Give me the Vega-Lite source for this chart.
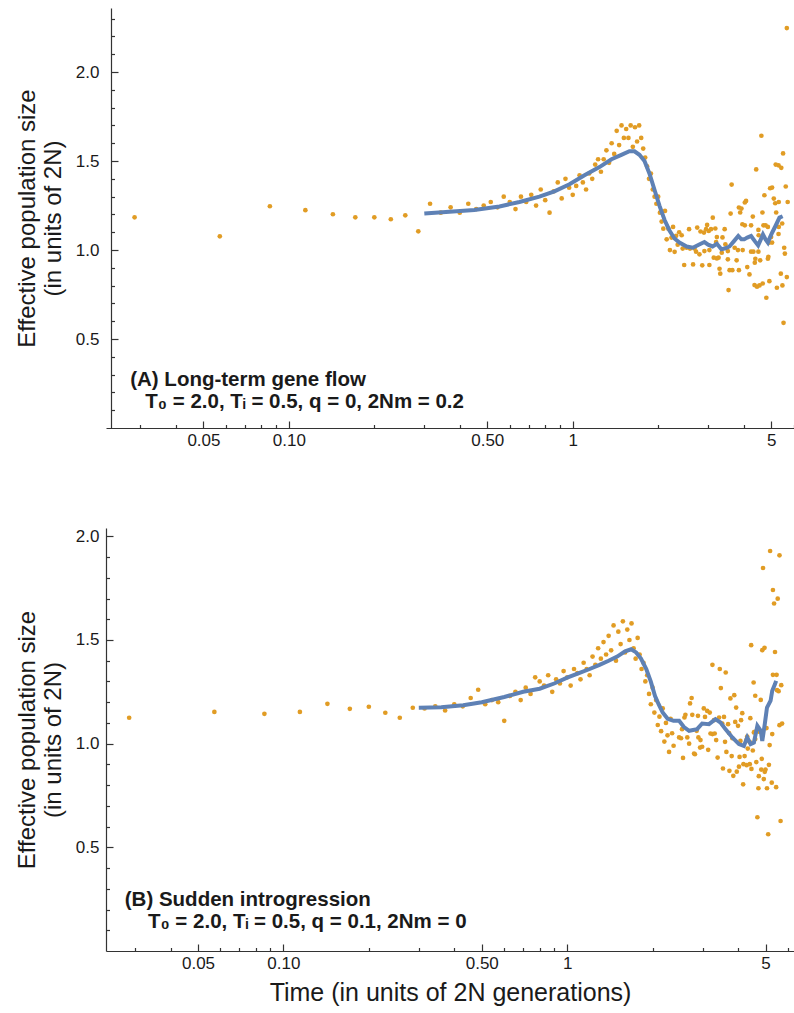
{
  "$schema": "https://vega.github.io/schema/vega-lite/v6.json",
  "padding": {"left": 15, "top": 8, "right": 0, "bottom": 5},
  "background": "white",
  "spacing": 79,
  "config": {
    "view": {"stroke": null},
    "axis": {"grid": false, "labelFont": "Liberation Sans", "titleFont": "Liberation Sans", "labelFontSize": 17, "titleFontSize": 24, "titleFontWeight": "normal", "domainColor": "#333333", "tickColor": "#333333", "labelColor": "#1a1a1a", "titleColor": "#1a1a1a", "domainWidth": 1.2, "tickWidth": 1.2}
  },
  "datasets": {
    "ptsA": [
      {"t":0.0286,"ne":1.184},{"t":0.0571,"ne":1.077},{"t":0.0857,"ne":1.246},{"t":0.1143,"ne":1.224},{"t":0.1429,"ne":1.201},{"t":0.1714,"ne":1.184},{"t":0.2,"ne":1.184},{"t":0.2286,"ne":1.173},{"t":0.2571,"ne":1.195},{"t":0.2857,"ne":1.105},
      {"t":0.3143,"ne":1.26},{"t":0.3429,"ne":1.21},{"t":0.3714,"ne":1.24},{"t":0.4,"ne":1.21},{"t":0.4286,"ne":1.26},{"t":0.4571,"ne":1.23},{"t":0.4857,"ne":1.25},{"t":0.5143,"ne":1.27},{"t":0.5429,"ne":1.24},{"t":0.5714,"ne":1.30},
      {"t":0.6,"ne":1.27},{"t":0.6286,"ne":1.23},{"t":0.6571,"ne":1.30},{"t":0.6857,"ne":1.27},{"t":0.7143,"ne":1.31},{"t":0.7429,"ne":1.25},{"t":0.7714,"ne":1.34},{"t":0.8,"ne":1.28},{"t":0.8286,"ne":1.21},{"t":0.8571,"ne":1.33},
      {"t":0.8857,"ne":1.38},{"t":0.9143,"ne":1.29},{"t":0.9429,"ne":1.40},{"t":0.9714,"ne":1.35},{"t":1.0,"ne":1.31},{"t":1.0286,"ne":1.36},{"t":1.0571,"ne":1.42},{"t":1.0857,"ne":1.38},{"t":1.1143,"ne":1.34},{"t":1.1429,"ne":1.43},
      {"t":1.1714,"ne":1.40},{"t":1.2,"ne":1.48},{"t":1.2286,"ne":1.51},{"t":1.2571,"ne":1.44},{"t":1.2857,"ne":1.51},{"t":1.3143,"ne":1.56},{"t":1.3429,"ne":1.49},{"t":1.3714,"ne":1.60},{"t":1.4,"ne":1.54},{"t":1.4286,"ne":1.67},
      {"t":1.4571,"ne":1.59},{"t":1.4857,"ne":1.70},{"t":1.5143,"ne":1.63},{"t":1.5429,"ne":1.68},{"t":1.5714,"ne":1.63},{"t":1.6,"ne":1.70},{"t":1.6286,"ne":1.58},{"t":1.6571,"ne":1.69},{"t":1.6857,"ne":1.61},{"t":1.7143,"ne":1.70},
      {"t":1.7429,"ne":1.63},{"t":1.7714,"ne":1.57},{"t":1.8,"ne":1.52},{"t":1.8286,"ne":1.47},{"t":1.8571,"ne":1.40},{"t":1.8857,"ne":1.43},{"t":1.9143,"ne":1.34},{"t":1.9429,"ne":1.30},{"t":1.9714,"ne":1.26},{"t":2.0,"ne":1.30},
      {"t":2.0286,"ne":1.21},{"t":2.0571,"ne":1.16},{"t":2.0857,"ne":1.12},{"t":2.1143,"ne":1.22},{"t":2.1429,"ne":1.06},{"t":2.1714,"ne":1.12},{"t":2.2,"ne":1.00},{"t":2.2286,"ne":1.07},{"t":2.2571,"ne":1.13},{"t":2.2857,"ne":0.99},
      {"t":2.3143,"ne":1.08},{"t":2.3429,"ne":1.03},{"t":2.3714,"ne":1.10},
      {"t":5.68,"ne":2.247},{"t":4.62,"ne":1.642},{"t":5.51,"ne":1.543},{"t":5.19,"ne":1.48},{"t":5.31,"ne":1.476},{"t":5.43,"ne":1.462},{"t":4.43,"ne":1.453},{"t":3.63,"ne":1.368},{"t":5.63,"ne":1.357},{"t":4.96,"ne":1.347},
      {"t":5.04,"ne":1.351},{"t":4.735,"ne":1.308},{"t":4.08,"ne":1.276},{"t":4.04,"ne":1.267},{"t":5.11,"ne":1.289},{"t":5.32,"ne":1.27},{"t":5.17,"ne":1.263},{"t":5.72,"ne":1.27},{"t":3.85,"ne":1.239},{"t":3.93,"ne":1.233},
      {"t":3.89,"ne":1.211},{"t":3.6,"ne":1.205},{"t":4.66,"ne":1.211},{"t":5.21,"ne":1.211},{"t":3.115,"ne":1.182},{"t":4.31,"ne":1.188},{"t":2.975,"ne":1.141},{"t":3.96,"ne":1.145},{"t":4.04,"ne":1.139},{"t":4.25,"ne":1.139},
      {"t":4.70,"ne":1.139},{"t":4.78,"ne":1.139},{"t":4.87,"ne":1.13},{"t":2.57,"ne":1.117},{"t":2.745,"ne":1.126},{"t":2.82,"ne":1.104},{"t":2.90,"ne":1.098},{"t":2.95,"ne":1.117},{"t":3.015,"ne":1.107},{"t":3.07,"ne":1.117},
      {"t":3.18,"ne":1.121},{"t":3.43,"ne":1.117},{"t":4.51,"ne":1.113},{"t":5.32,"ne":1.13},{"t":5.47,"ne":1.149},{"t":2.42,"ne":1.083},{"t":3.22,"ne":1.073},{"t":3.37,"ne":1.071},{"t":4.52,"ne":1.083},{"t":5.0,"ne":1.073},
      {"t":4.93,"ne":1.042},{"t":5.04,"ne":1.042},{"t":5.31,"ne":1.09},{"t":2.44,"ne":1.008},{"t":2.52,"ne":1.013},{"t":2.59,"ne":1.008},{"t":2.685,"ne":1.008},{"t":2.72,"ne":0.991},{"t":2.796,"ne":0.976},{"t":2.91,"ne":0.994},
      {"t":3.03,"ne":1.0},{"t":3.2,"ne":1.045},{"t":3.45,"ne":1.032},{"t":3.52,"ne":0.994},{"t":3.35,"ne":0.985},{"t":3.72,"ne":1.013},{"t":3.82,"ne":1.0},{"t":3.97,"ne":1.0},{"t":4.25,"ne":0.991},{"t":4.33,"ne":0.991},
      {"t":4.51,"ne":0.991},{"t":5.56,"ne":1.013},{"t":5.59,"ne":0.98},{"t":2.47,"ne":0.916},{"t":2.655,"ne":0.919},{"t":2.86,"ne":0.914},{"t":3.03,"ne":0.916},{"t":3.14,"ne":0.957},{"t":3.22,"ne":0.953},{"t":3.265,"ne":0.957},
      {"t":3.52,"ne":0.948},{"t":3.78,"ne":0.942},{"t":3.29,"ne":0.895},{"t":3.31,"ne":0.867},{"t":3.57,"ne":0.887},{"t":3.65,"ne":0.887},{"t":3.85,"ne":0.887},{"t":4.12,"ne":0.904},{"t":4.195,"ne":0.863},{"t":4.38,"ne":0.929},
      {"t":4.4,"ne":0.951},{"t":4.575,"ne":0.942},{"t":4.87,"ne":0.951},{"t":4.89,"ne":0.962},{"t":5.41,"ne":0.867},{"t":5.68,"ne":0.848},{"t":3.54,"ne":0.775},{"t":4.37,"ne":0.803},{"t":4.46,"ne":0.794},{"t":4.55,"ne":0.801},
      {"t":4.67,"ne":0.812},{"t":4.93,"ne":0.825},{"t":4.81,"ne":0.732},{"t":5.24,"ne":0.788},{"t":5.48,"ne":0.801},{"t":5.53,"ne":0.591}
    ],
    "lineA": [
      {"t":0.30,"ne":1.205},{"t":0.368,"ne":1.215},{"t":0.45,"ne":1.225},{"t":0.552,"ne":1.245},{"t":0.649,"ne":1.27},{"t":0.763,"ne":1.30},{"t":0.862,"ne":1.33},{"t":0.974,"ne":1.37},{"t":1.10,"ne":1.42},{"t":1.242,"ne":1.466},
      {"t":1.37,"ne":1.51},{"t":1.484,"ne":1.535},{"t":1.584,"ne":1.555},{"t":1.65,"ne":1.555},{"t":1.718,"ne":1.535},{"t":1.79,"ne":1.50},{"t":1.863,"ne":1.43},{"t":1.94,"ne":1.34},{"t":2.021,"ne":1.25},{"t":2.105,"ne":1.17},
      {"t":2.192,"ne":1.11},{"t":2.283,"ne":1.065},{"t":2.377,"ne":1.042},{"t":2.52,"ne":1.02},{"t":2.65,"ne":1.013},{"t":2.78,"ne":1.03},{"t":2.91,"ne":1.045},{"t":3.0,"ne":1.03},{"t":3.11,"ne":1.02},{"t":3.22,"ne":1.035},
      {"t":3.34,"ne":1.004},{"t":3.45,"ne":1.01},{"t":3.566,"ne":1.02},{"t":3.7,"ne":1.05},{"t":3.83,"ne":1.079},{"t":3.93,"ne":1.06},{"t":4.02,"ne":1.06},{"t":4.12,"ne":1.07},{"t":4.25,"ne":1.079},{"t":4.38,"ne":1.05},
      {"t":4.5,"ne":1.026},{"t":4.6,"ne":1.06},{"t":4.68,"ne":1.088},{"t":4.78,"ne":1.06},{"t":4.87,"ne":1.042},{"t":4.95,"ne":1.07},{"t":5.05,"ne":1.10},{"t":5.18,"ne":1.135},{"t":5.35,"ne":1.182},{"t":5.49,"ne":1.19}
    ],
    "ptsB": [
      {"t":0.0286,"ne":1.125},{"t":0.0571,"ne":1.153},{"t":0.0857,"ne":1.144},{"t":0.1143,"ne":1.153},{"t":0.1429,"ne":1.192},{"t":0.1714,"ne":1.168},{"t":0.2,"ne":1.178},{"t":0.2286,"ne":1.149},{"t":0.2571,"ne":1.125},{"t":0.2857,"ne":1.173},
      {"t":0.3143,"ne":1.17},{"t":0.3429,"ne":1.18},{"t":0.3714,"ne":1.16},{"t":0.4,"ne":1.19},{"t":0.4286,"ne":1.18},{"t":0.4571,"ne":1.22},{"t":0.4857,"ne":1.26},{"t":0.5143,"ne":1.19},{"t":0.5429,"ne":1.21},{"t":0.5714,"ne":1.20},
      {"t":0.6,"ne":1.11},{"t":0.6286,"ne":1.23},{"t":0.6571,"ne":1.25},{"t":0.6857,"ne":1.21},{"t":0.7143,"ne":1.27},{"t":0.7429,"ne":1.24},{"t":0.7714,"ne":1.32},{"t":0.8,"ne":1.30},{"t":0.8286,"ne":1.28},{"t":0.8571,"ne":1.33},
      {"t":0.8857,"ne":1.25},{"t":0.9143,"ne":1.31},{"t":0.9429,"ne":1.29},{"t":0.9714,"ne":1.35},{"t":1.0,"ne":1.32},{"t":1.0286,"ne":1.28},{"t":1.0571,"ne":1.36},{"t":1.0857,"ne":1.34},{"t":1.1143,"ne":1.31},{"t":1.1429,"ne":1.39},
      {"t":1.1714,"ne":1.36},{"t":1.2,"ne":1.33},{"t":1.2286,"ne":1.42},{"t":1.2571,"ne":1.38},{"t":1.2857,"ne":1.46},{"t":1.3143,"ne":1.41},{"t":1.3429,"ne":1.49},{"t":1.3714,"ne":1.43},{"t":1.4,"ne":1.52},{"t":1.4286,"ne":1.45},
      {"t":1.4571,"ne":1.57},{"t":1.4857,"ne":1.40},{"t":1.5143,"ne":1.54},{"t":1.5429,"ne":1.48},{"t":1.5714,"ne":1.59},{"t":1.6,"ne":1.44},{"t":1.6286,"ne":1.55},{"t":1.6571,"ne":1.50},{"t":1.6857,"ne":1.58},{"t":1.7143,"ne":1.46},
      {"t":1.7429,"ne":1.41},{"t":1.7714,"ne":1.51},{"t":1.8,"ne":1.43},{"t":1.8286,"ne":1.36},{"t":1.8571,"ne":1.39},{"t":1.8857,"ne":1.30},{"t":1.9143,"ne":1.33},{"t":1.9429,"ne":1.24},{"t":1.9714,"ne":1.19},{"t":2.0,"ne":1.27},
      {"t":2.0286,"ne":1.15},{"t":2.0571,"ne":1.21},{"t":2.0857,"ne":1.09},{"t":2.1143,"ne":1.13},{"t":2.1429,"ne":1.06},{"t":2.1714,"ne":1.17},{"t":2.2,"ne":1.01},{"t":2.2286,"ne":1.10},{"t":2.2571,"ne":1.04},{"t":2.2857,"ne":0.96},
      {"t":2.3143,"ne":1.12},{"t":2.3429,"ne":1.05},{"t":2.3714,"ne":0.99},
      {"t":5.19,"ne":1.929},{"t":5.6,"ne":1.908},{"t":4.9,"ne":1.847},{"t":5.31,"ne":1.741},{"t":5.52,"ne":1.699},{"t":5.36,"ne":1.676},{"t":4.45,"ne":1.475},{"t":4.87,"ne":1.451},{"t":4.96,"ne":1.462},{"t":5.4,"ne":1.442},
      {"t":3.25,"ne":1.38},{"t":3.45,"ne":1.36},{"t":3.62,"ne":1.343},{"t":5.31,"ne":1.332},{"t":5.47,"ne":1.332},{"t":4.54,"ne":1.295},{"t":5.68,"ne":1.282},{"t":5.49,"ne":1.258},{"t":5.56,"ne":1.253},{"t":3.48,"ne":1.268},
      {"t":4.6,"ne":1.231},{"t":4.81,"ne":1.211},{"t":3.88,"ne":1.234},{"t":3.76,"ne":1.218},{"t":2.745,"ne":1.22},{"t":2.71,"ne":1.194},{"t":3.94,"ne":1.174},{"t":4.14,"ne":1.147},{"t":4.1,"ne":1.113},{"t":3.03,"ne":1.17},
      {"t":3.115,"ne":1.158},{"t":3.18,"ne":1.15},{"t":3.06,"ne":1.129},{"t":2.61,"ne":1.139},{"t":2.76,"ne":1.139},{"t":2.89,"ne":1.134},{"t":2.59,"ne":1.126},{"t":3.29,"ne":1.113},{"t":3.43,"ne":1.126},{"t":3.57,"ne":1.129},
      {"t":3.52,"ne":1.097},{"t":3.69,"ne":1.094},{"t":4.0,"ne":1.086},{"t":3.91,"ne":1.105},{"t":4.42,"ne":1.123},{"t":5.6,"ne":1.089},{"t":5.72,"ne":1.097},{"t":2.54,"ne":1.07},{"t":2.86,"ne":1.062},{"t":2.9,"ne":1.03},
      {"t":2.95,"ne":1.017},{"t":2.48,"ne":1.03},{"t":2.52,"ne":1.026},{"t":2.65,"ne":1.03},{"t":2.69,"ne":1.0},{"t":3.2,"ne":1.049},{"t":3.25,"ne":1.046},{"t":3.31,"ne":1.049},{"t":3.72,"ne":1.051},{"t":3.82,"ne":1.026},
      {"t":3.6,"ne":1.009},{"t":4.08,"ne":1.013},{"t":4.31,"ne":1.034},{"t":4.4,"ne":1.007},{"t":4.58,"ne":1.057},{"t":4.735,"ne":1.058},{"t":4.6,"ne":1.022},{"t":4.55,"ne":1.054},{"t":5.04,"ne":1.075},{"t":5.28,"ne":1.046},
      {"t":5.17,"ne":0.993},{"t":4.29,"ne":1.02},{"t":4.33,"ne":0.976},{"t":4.51,"ne":0.967},{"t":3.35,"ne":1.017},{"t":3.14,"ne":0.97},{"t":2.56,"ne":0.931},{"t":2.8,"ne":0.952},{"t":2.82,"ne":0.949},{"t":2.94,"ne":0.981},
      {"t":2.99,"ne":0.985},{"t":3.39,"ne":0.933},{"t":3.64,"ne":0.96},{"t":3.8,"ne":0.94},{"t":4.05,"ne":0.936},{"t":4.22,"ne":0.94},{"t":4.18,"ne":0.901},{"t":4.4,"ne":0.901},{"t":4.29,"ne":0.896},{"t":4.46,"ne":0.878},
      {"t":4.64,"ne":0.911},{"t":4.85,"ne":0.927},{"t":4.03,"ne":0.889},{"t":3.54,"ne":0.88},{"t":3.73,"ne":0.869},{"t":3.85,"ne":0.845},{"t":3.96,"ne":0.865},{"t":4.735,"ne":0.843},{"t":4.83,"ne":0.875},{"t":4.93,"ne":0.829},
      {"t":4.97,"ne":0.864},{"t":5.0,"ne":0.875},{"t":5.14,"ne":0.898},{"t":4.17,"ne":0.804},{"t":4.72,"ne":0.785},{"t":5.06,"ne":0.785},{"t":5.26,"ne":0.812},{"t":5.45,"ne":0.79},{"t":4.68,"ne":0.645},{"t":5.11,"ne":0.563},
      {"t":5.65,"ne":0.627}
    ],
    "lineB": [
      {"t":0.30,"ne":1.173},{"t":0.36,"ne":1.175},{"t":0.43,"ne":1.185},{"t":0.5,"ne":1.20},{"t":0.6,"ne":1.225},{"t":0.7,"ne":1.25},{"t":0.8,"ne":1.265},{"t":0.9,"ne":1.29},{"t":1.0,"ne":1.318},{"t":1.1,"ne":1.34},
      {"t":1.2,"ne":1.36},{"t":1.3,"ne":1.38},{"t":1.4,"ne":1.40},{"t":1.5,"ne":1.42},{"t":1.6,"ne":1.445},{"t":1.68,"ne":1.455},{"t":1.75,"ne":1.44},{"t":1.82,"ne":1.41},{"t":1.9,"ne":1.36},{"t":1.97,"ne":1.30},
      {"t":2.04,"ne":1.23},{"t":2.1,"ne":1.19},{"t":2.17,"ne":1.15},{"t":2.26,"ne":1.12},{"t":2.37,"ne":1.11},{"t":2.48,"ne":1.11},{"t":2.58,"ne":1.08},{"t":2.69,"ne":1.062},{"t":2.87,"ne":1.07},{"t":2.99,"ne":1.097},
      {"t":3.16,"ne":1.094},{"t":3.33,"ne":1.118},{"t":3.47,"ne":1.102},{"t":3.61,"ne":1.07},{"t":3.82,"ne":1.03},{"t":4.03,"ne":0.998},{"t":4.195,"ne":0.989},{"t":4.31,"ne":1.03},{"t":4.43,"ne":0.998},{"t":4.55,"ne":1.005},
      {"t":4.68,"ne":1.086},{"t":4.81,"ne":1.062},{"t":4.87,"ne":1.013},{"t":4.97,"ne":1.094},{"t":5.06,"ne":1.174},{"t":5.21,"ne":1.207},{"t":5.28,"ne":1.255},{"t":5.4,"ne":1.287},{"t":5.45,"ne":1.303}
    ]
  },
  "vconcat": [
    {
      "width": 688,
      "height": 420,
      "layer": [
        {
          "data": {"name": "ptsA"},
          "mark": {"type": "circle", "size": 22, "color": "#E19C24", "opacity": 1},
          "encoding": {
            "x": {"field": "t", "type": "quantitative", "scale": {"type": "log", "domain": [0.02268, 6.02], "nice": false},
                  "axis": {"values": [0.05, 0.1, 0.5, 1, 5], "labelExpr": "datum.value < 0.07 ? '0.05' : datum.value < 0.3 ? '0.10' : datum.value < 0.7 ? '0.50' : datum.value < 2 ? '1' : '5'", "ticks": false, "title": null, "labelPadding": 4, "orient": "bottom"}},
            "y": {"field": "ne", "type": "quantitative", "scale": {"domain": [0, 2.36], "nice": false, "zero": false},
                  "axis": {"values": [0.5, 1, 1.5, 2], "format": ".1f", "ticks": false, "labelPadding": 12, "offset": -5, "orient": "left", "title": ["Effective population size", "(in units of 2N)"], "titlePadding": 10, "titleLineHeight": 26}}
          }
        },
        {
          "data": {"name": "lineA"},
          "mark": {"type": "line", "color": "#5E81B5", "strokeWidth": 4},
          "encoding": {
            "x": {"field": "t", "type": "quantitative", "scale": {"type": "log", "domain": [0.02268, 6.02], "nice": false},
                  "axis": {"values": [0.05, 0.1, 0.5, 1, 5], "labels": false, "domain": false, "tickSize": 7, "offset": -7, "title": null, "orient": "bottom"}},
            "y": {"field": "ne", "type": "quantitative", "scale": {"domain": [0, 2.36], "nice": false, "zero": false},
                  "axis": {"values": [0.5, 1, 1.5, 2], "labels": false, "domain": false, "tickSize": 7, "offset": -12, "title": null, "orient": "left"}}
          }
        },
        {
          "data": {"values": [{}]},
          "mark": {"type": "text", "align": "left", "baseline": "middle", "font": "Liberation Sans", "fontSize": 20.5, "fontWeight": "bold", "color": "#1a1a1a"},
          "encoding": {
            "x": {"datum": 0.0276, "type": "quantitative", "scale": {"type": "log", "domain": [0.02268, 6.02], "nice": false},
                  "axis": {"values": [0.03, 0.04, 0.06, 0.07, 0.08, 0.09, 0.2, 0.3, 0.4, 0.6, 0.7, 0.8, 0.9, 2, 3, 4, 6], "labels": false, "domain": false, "tickSize": 3.5, "offset": -3.5, "title": null, "orient": "bottom"}},
            "y": {"datum": 0.272, "type": "quantitative", "scale": {"domain": [0, 2.36], "nice": false, "zero": false},
                  "axis": {"values": [0.1, 0.2, 0.3, 0.4, 0.6, 0.7, 0.8, 0.9, 1.1, 1.2, 1.3, 1.4, 1.6, 1.7, 1.8, 1.9, 2.1, 2.2, 2.3], "labels": false, "domain": false, "tickSize": 3.5, "offset": -8.5, "title": null, "orient": "left"}},
            "text": {"value": "(A) Long-term gene flow"}
          }
        },
        {
          "data": {"values": [{}]},
          "mark": {"type": "text", "align": "left", "baseline": "middle", "font": "Liberation Sans", "fontSize": 20.5, "fontWeight": "bold", "color": "#1a1a1a"},
          "encoding": {
            "x": {"datum": 0.0312, "type": "quantitative", "axis": null},
            "y": {"datum": 0.148, "type": "quantitative", "axis": null},
            "text": {"value": "T₀ = 2.0, Tᵢ = 0.5, q = 0, 2Nm = 0.2"}
          }
        }
      ],
      "resolve": {"axis": {"x": "independent", "y": "independent"}}
    },
    {
      "width": 688,
      "height": 423,
      "layer": [
        {
          "data": {"name": "ptsB"},
          "mark": {"type": "circle", "size": 22, "color": "#E19C24", "opacity": 1},
          "encoding": {
            "x": {"field": "t", "type": "quantitative", "scale": {"type": "log", "domain": [0.0237, 6.3], "nice": false},
                  "axis": {"values": [0.05, 0.1, 0.5, 1, 5], "labelExpr": "datum.value < 0.07 ? '0.05' : datum.value < 0.3 ? '0.10' : datum.value < 0.7 ? '0.50' : datum.value < 2 ? '1' : '5'", "ticks": false, "title": "Time (in units of 2N generations)", "titleFontSize": 25, "titlePadding": 9, "labelPadding": 4, "orient": "bottom"}},
            "y": {"field": "ne", "type": "quantitative", "scale": {"domain": [0, 2.04], "nice": false, "zero": false},
                  "axis": {"values": [0.5, 1, 1.5, 2], "format": ".1f", "ticks": false, "labelPadding": 7, "orient": "left", "title": ["Effective population size", "(in units of 2N)"], "titlePadding": 10, "titleLineHeight": 26}}
          }
        },
        {
          "data": {"name": "lineB"},
          "mark": {"type": "line", "color": "#5E81B5", "strokeWidth": 4},
          "encoding": {
            "x": {"field": "t", "type": "quantitative", "scale": {"type": "log", "domain": [0.0237, 6.3], "nice": false},
                  "axis": {"values": [0.05, 0.1, 0.5, 1, 5], "labels": false, "domain": false, "tickSize": 7, "offset": -7, "title": null, "orient": "bottom"}},
            "y": {"field": "ne", "type": "quantitative", "scale": {"domain": [0, 2.04], "nice": false, "zero": false},
                  "axis": {"values": [0.5, 1, 1.5, 2], "labels": false, "domain": false, "tickSize": 7, "offset": -7, "title": null, "orient": "left"}}
          }
        },
        {
          "data": {"values": [{}]},
          "mark": {"type": "text", "align": "left", "baseline": "middle", "font": "Liberation Sans", "fontSize": 20.5, "fontWeight": "bold", "color": "#1a1a1a"},
          "encoding": {
            "x": {"datum": 0.0276, "type": "quantitative", "scale": {"type": "log", "domain": [0.0237, 6.3], "nice": false},
                  "axis": {"values": [0.03, 0.04, 0.06, 0.07, 0.08, 0.09, 0.2, 0.3, 0.4, 0.6, 0.7, 0.8, 0.9, 2, 3, 4, 6], "labels": false, "domain": false, "tickSize": 3.5, "offset": -3.5, "title": null, "orient": "bottom"}},
            "y": {"datum": 0.246, "type": "quantitative", "scale": {"domain": [0, 2.04], "nice": false, "zero": false},
                  "axis": {"values": [0.1, 0.2, 0.3, 0.4, 0.6, 0.7, 0.8, 0.9, 1.1, 1.2, 1.3, 1.4, 1.6, 1.7, 1.8, 1.9], "labels": false, "domain": false, "tickSize": 3.5, "offset": -3.5, "title": null, "orient": "left"}},
            "text": {"value": "(B) Sudden introgression"}
          }
        },
        {
          "data": {"values": [{}]},
          "mark": {"type": "text", "align": "left", "baseline": "middle", "font": "Liberation Sans", "fontSize": 20.5, "fontWeight": "bold", "color": "#1a1a1a"},
          "encoding": {
            "x": {"datum": 0.0333, "type": "quantitative", "axis": null},
            "y": {"datum": 0.14, "type": "quantitative", "axis": null},
            "text": {"value": "T₀ = 2.0, Tᵢ = 0.5, q = 0.1, 2Nm = 0"}
          }
        }
      ],
      "resolve": {"axis": {"x": "independent", "y": "independent"}}
    }
  ]
}
